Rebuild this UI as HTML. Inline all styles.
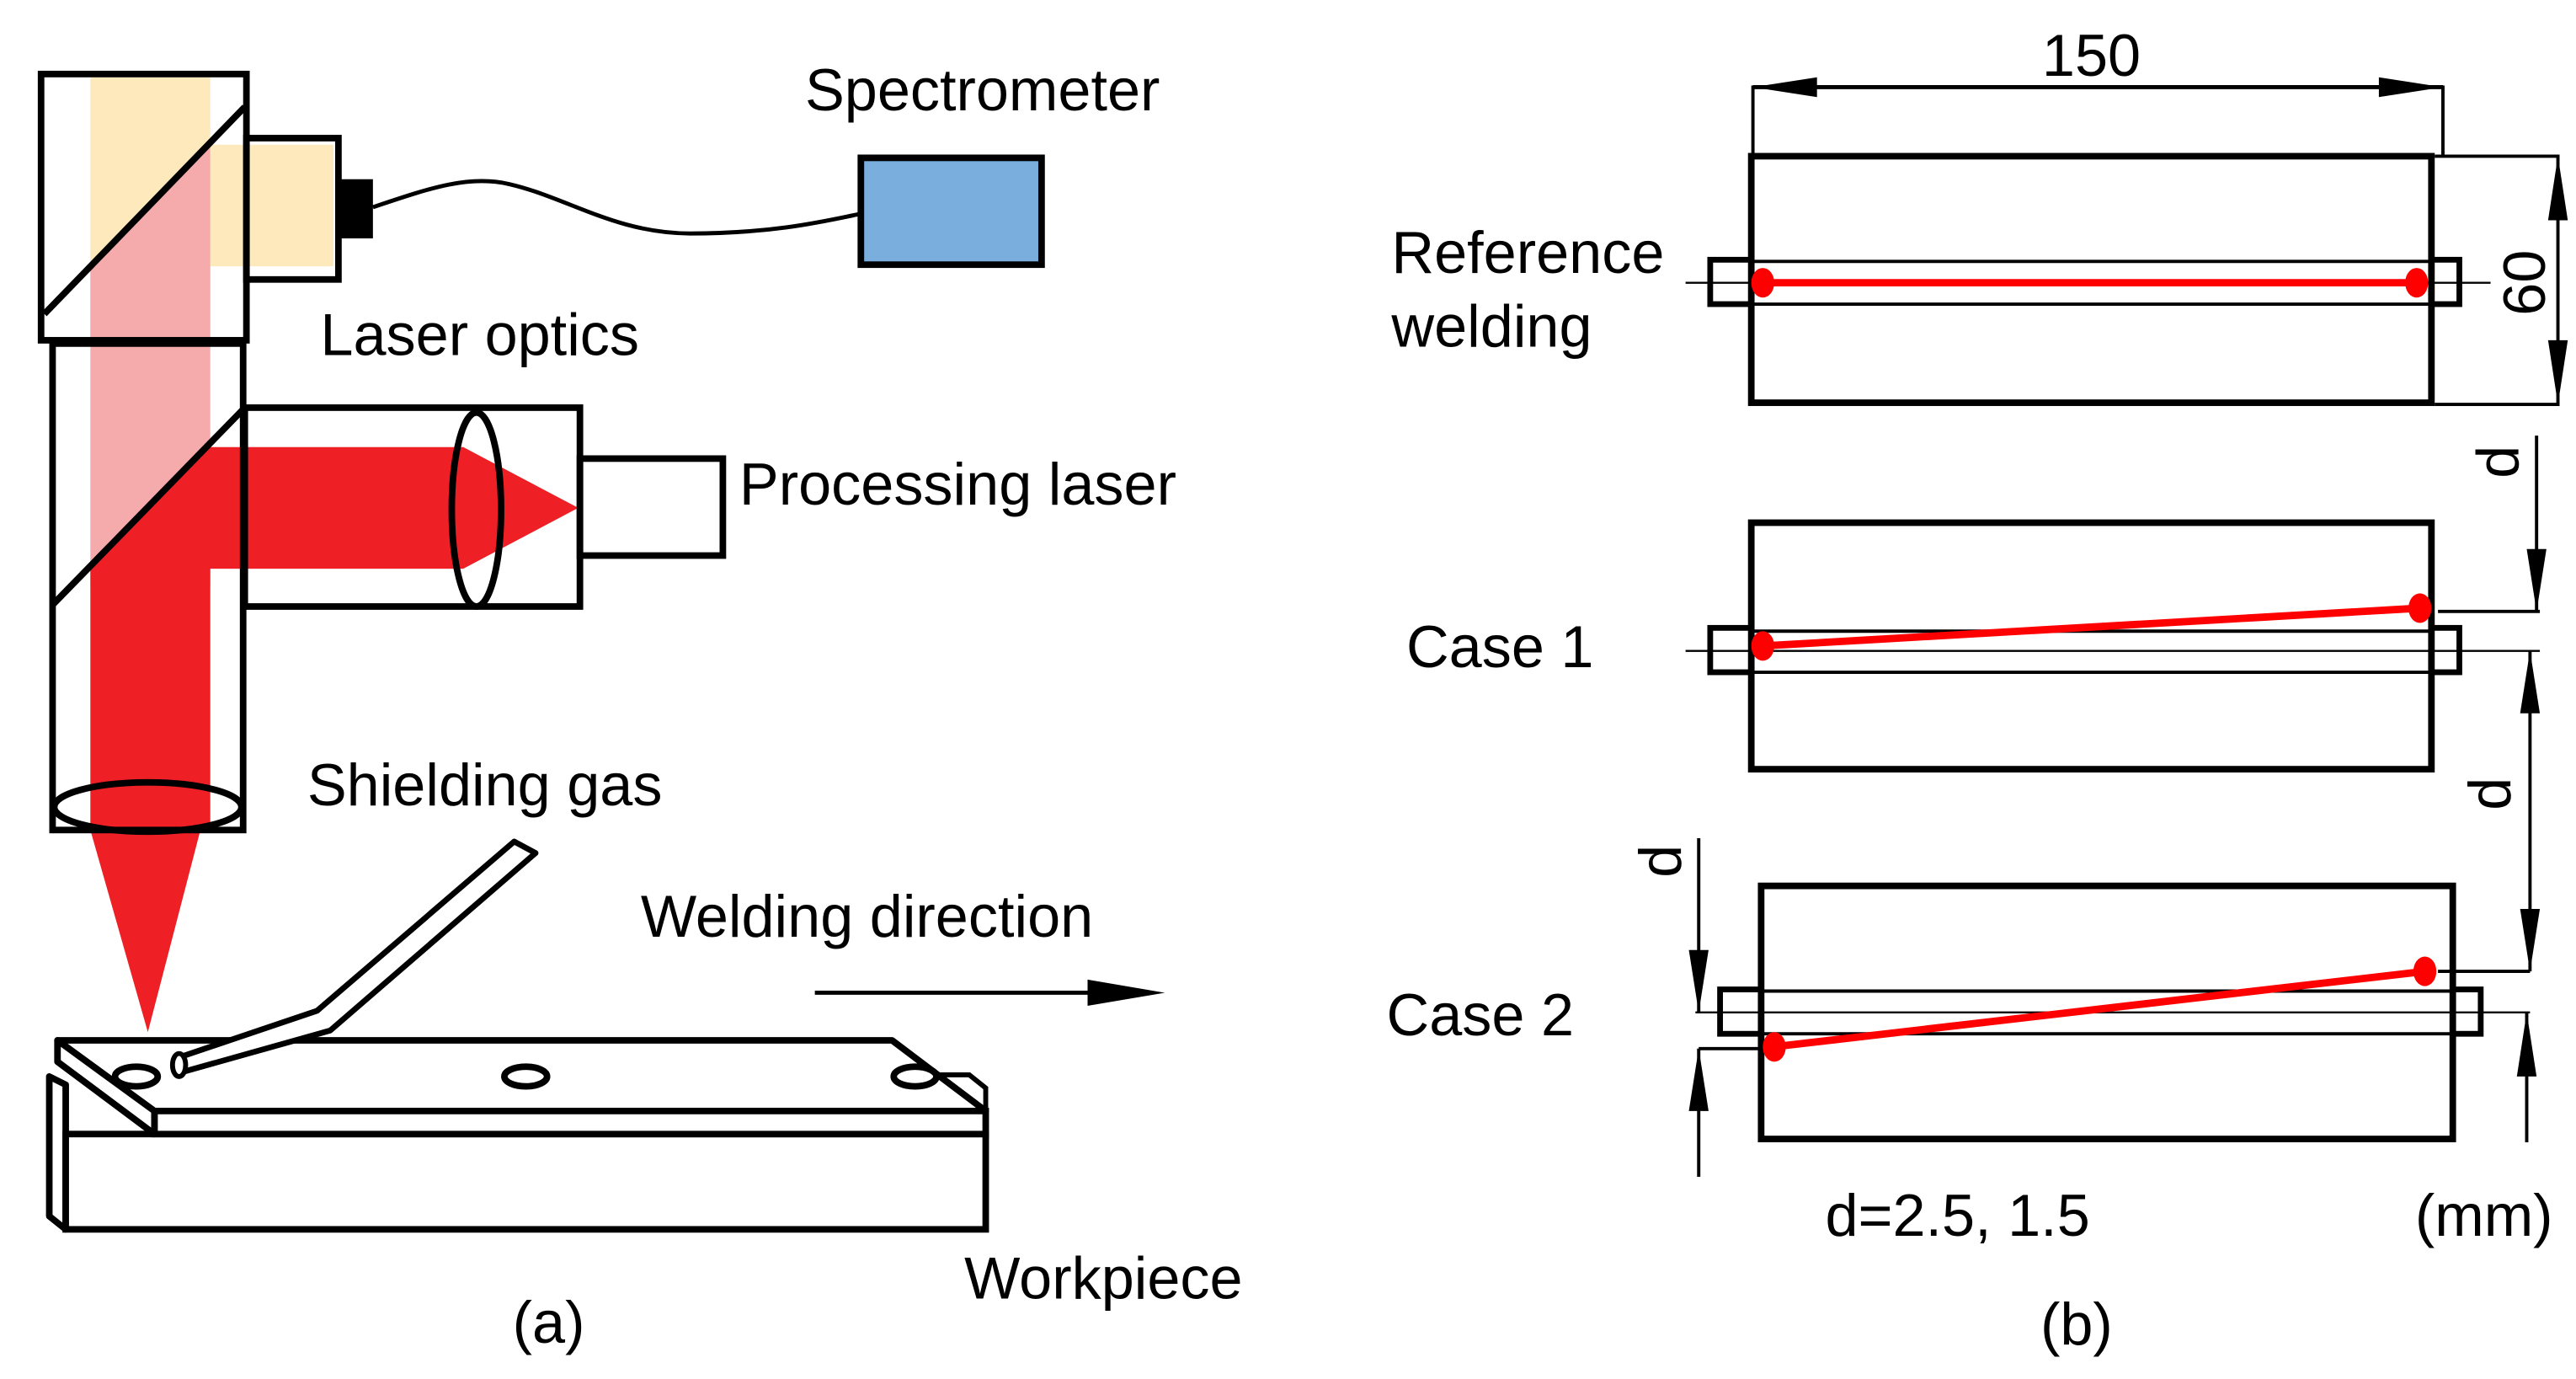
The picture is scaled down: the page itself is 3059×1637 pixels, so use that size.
<!DOCTYPE html>
<html><head><meta charset="utf-8"><style>html,body{margin:0;padding:0;background:#fff}svg{display:block}text{font-family:"Liberation Sans",Arial,sans-serif;font-size:36px;fill:#000}</style></head><body>
<svg width="3059" height="1637" viewBox="0 0 1568 839" xmlns="http://www.w3.org/2000/svg">
<!-- LEFT -->
<rect x="55" y="47" width="73" height="158" fill="#fde9bb"/>
<rect x="128" y="88" width="75" height="74" fill="#fde9bb"/>
<polygon points="128,87 55,162 55,207 128,207" fill="#f5aaab"/>
<rect x="55" y="207" width="73" height="150" fill="#f5aaab"/>
<polygon points="128,272 282,272 352,309 282,346 128,346 128,505 55,505 55,344 128,270" fill="#ee1f25"/>
<polygon points="55,505 122,505 90,628" fill="#ee1f25"/>
<rect x="25" y="45" width="125" height="162" fill="none" stroke="#000" stroke-width="4"/>
<line x1="27" y1="191" x2="149" y2="65" stroke="#000" stroke-width="4"/>
<rect x="150" y="84" width="56" height="86" fill="none" stroke="#000" stroke-width="4"/>
<rect x="207" y="109" width="20" height="36" fill="#000"/>
<path d="M227,126 C260,115 285,106 310,112 C345,120 375,142 420,142 C470,142 500,135 524,130" fill="none" stroke="#000" stroke-width="2.5"/>
<rect x="524" y="96" width="110" height="65" fill="#7aaedc" stroke="#000" stroke-width="4"/>
<rect x="32" y="209" width="116" height="296" fill="none" stroke="#000" stroke-width="4"/>
<line x1="32" y1="368" x2="149" y2="248" stroke="#000" stroke-width="4"/>
<rect x="149" y="248" width="204" height="121" fill="none" stroke="#000" stroke-width="4"/>
<ellipse cx="290" cy="310" rx="15" ry="59" fill="none" stroke="#000" stroke-width="4"/>
<rect x="353" y="279" width="87" height="59" fill="none" stroke="#000" stroke-width="4"/>
<ellipse cx="90" cy="491" rx="57" ry="15" fill="none" stroke="#000" stroke-width="4"/>
<!-- workpiece -->
<polygon points="30,655 40,660 40,748 30,740" fill="#fff" stroke="#000" stroke-width="4" stroke-linejoin="round"/>
<rect x="40" y="690" width="560" height="58" fill="#fff" stroke="#000" stroke-width="4"/>
<polygon points="572,654 590,654 600,662 600,676 572,676" fill="#fff" stroke="#000" stroke-width="3"/>
<polygon points="35,633 543,633 600,676 94,676" fill="#fff" stroke="#000" stroke-width="4" stroke-linejoin="round"/>
<polygon points="94,676 600,676 600,690 94,690" fill="#fff" stroke="#000" stroke-width="4"/>
<polygon points="35,633 94,676 94,690 35,646" fill="#fff" stroke="#000" stroke-width="4" stroke-linejoin="round"/>
<ellipse cx="83" cy="655" rx="13" ry="6" fill="none" stroke="#000" stroke-width="4"/>
<ellipse cx="320" cy="655" rx="13" ry="6" fill="none" stroke="#000" stroke-width="4"/>
<ellipse cx="557" cy="655" rx="13" ry="6" fill="none" stroke="#000" stroke-width="4"/>
<polygon points="313,512 326,519 201,627 112,652 107,644 193,615" fill="#fff" stroke="#000" stroke-width="3.5" stroke-linejoin="round"/>
<ellipse cx="109" cy="648" rx="4" ry="7" fill="#fff" stroke="#000" stroke-width="3"/>
<line x1="496" y1="604" x2="672" y2="604" stroke="#000" stroke-width="2.5"/>
<polygon points="662,596 709,604 662,612" fill="#000"/>
<text x="490" y="67">Spectrometer</text>
<text x="195" y="216">Laser optics</text>
<text x="450" y="307">Processing laser</text>
<text x="187" y="490">Shielding gas</text>
<text x="390" y="570">Welding direction</text>
<text x="587" y="790">Workpiece</text>
<text x="312" y="817">(a)</text>

<!-- RIGHT -->
<g stroke="#000" fill="none">
<line x1="1067" y1="52" x2="1067" y2="95" stroke-width="2"/>
<line x1="1487" y1="52" x2="1487" y2="95" stroke-width="2"/>
<line x1="1067" y1="53" x2="1487" y2="53" stroke-width="2.5"/>
<rect x="1066" y="95" width="414" height="150" stroke-width="4"/>
<rect x="1041" y="158" width="25" height="27" stroke-width="3.5"/>
<rect x="1480" y="158" width="17" height="27" stroke-width="3.5"/>
<line x1="1066" y1="159" x2="1480" y2="159" stroke-width="2"/>
<line x1="1066" y1="185" x2="1480" y2="185" stroke-width="2"/>
<line x1="1026" y1="172" x2="1516" y2="172" stroke-width="1.2"/>
<line x1="1482" y1="95" x2="1558" y2="95" stroke-width="2"/>
<line x1="1482" y1="246" x2="1558" y2="246" stroke-width="2"/>
<line x1="1557" y1="95" x2="1557" y2="246" stroke-width="2"/>
<rect x="1066" y="318" width="414" height="150" stroke-width="4"/>
<rect x="1041" y="382" width="25" height="27" stroke-width="3.5"/>
<rect x="1480" y="382" width="17" height="27" stroke-width="3.5"/>
<line x1="1066" y1="384" x2="1480" y2="384" stroke-width="2"/>
<line x1="1066" y1="409" x2="1480" y2="409" stroke-width="2"/>
<line x1="1026" y1="396" x2="1546" y2="396" stroke-width="1.2"/>
<line x1="1484" y1="372" x2="1546" y2="372" stroke-width="2"/>
<line x1="1544" y1="265" x2="1544" y2="372" stroke-width="2"/>
<line x1="1540" y1="396" x2="1540" y2="591" stroke-width="2"/>
<rect x="1072" y="539" width="421" height="154" stroke-width="4"/>
<rect x="1047" y="602" width="25" height="27" stroke-width="3.5"/>
<rect x="1493" y="602" width="17" height="27" stroke-width="3.5"/>
<line x1="1072" y1="603" x2="1493" y2="603" stroke-width="2"/>
<line x1="1072" y1="629" x2="1493" y2="629" stroke-width="2"/>
<line x1="1032" y1="616" x2="1540" y2="616" stroke-width="1.2"/>
<line x1="1484" y1="591" x2="1540" y2="591" stroke-width="2"/>
<line x1="1538" y1="616" x2="1538" y2="695" stroke-width="2"/>
<line x1="1034" y1="510" x2="1034" y2="616" stroke-width="2"/>
<line x1="1034" y1="638" x2="1081" y2="638" stroke-width="2"/>
<line x1="1034" y1="638" x2="1034" y2="716" stroke-width="2"/>
</g>
<g fill="#000">
<polygon points="1067,53 1106,47 1106,59"/>
<polygon points="1487,53 1448,47 1448,59"/>
<polygon points="1557,95 1551,134 1563,134"/>
<polygon points="1557,246 1551,207 1563,207"/>
<polygon points="1544,372 1538,334 1550,334"/>
<polygon points="1540,396 1534,434 1546,434"/>
<polygon points="1540,591 1534,553 1546,553"/>
<polygon points="1538,616 1532,655 1544,655"/>
<polygon points="1034,616 1028,578 1040,578"/>
<polygon points="1034,638 1028,676 1040,676"/>
</g>
<g stroke="#ff0000" stroke-width="4.5" fill="#ff0000">
<line x1="1073" y1="172" x2="1471" y2="172"/>
<line x1="1073" y1="393" x2="1473" y2="370"/>
<line x1="1079" y1="637" x2="1476" y2="591"/>
</g>
<g fill="#ff0000">
<ellipse cx="1073" cy="172" rx="7" ry="9"/>
<ellipse cx="1471" cy="172" rx="7" ry="9"/>
<ellipse cx="1073" cy="393" rx="7" ry="9"/>
<ellipse cx="1473" cy="370" rx="7" ry="9"/>
<ellipse cx="1080" cy="637" rx="7" ry="9"/>
<ellipse cx="1476" cy="591" rx="7" ry="9"/>
</g>
<text x="1273" y="46" text-anchor="middle">150</text>
<text transform="translate(1549,172) rotate(-90)" text-anchor="middle">60</text>
<text transform="translate(1533,281) rotate(-90)" text-anchor="middle">d</text>
<text transform="translate(1528,483) rotate(-90)" text-anchor="middle">d</text>
<text transform="translate(1023,524) rotate(-90)" text-anchor="middle">d</text>
<text x="847" y="166">Reference</text>
<text x="847" y="211">welding</text>
<text x="856" y="406">Case 1</text>
<text x="844" y="630">Case 2</text>
<text x="1111" y="752">d=2.5, 1.5</text>
<text x="1470" y="752">(mm)</text>
<text x="1242" y="818">(b)</text>
</svg>
</body></html>
